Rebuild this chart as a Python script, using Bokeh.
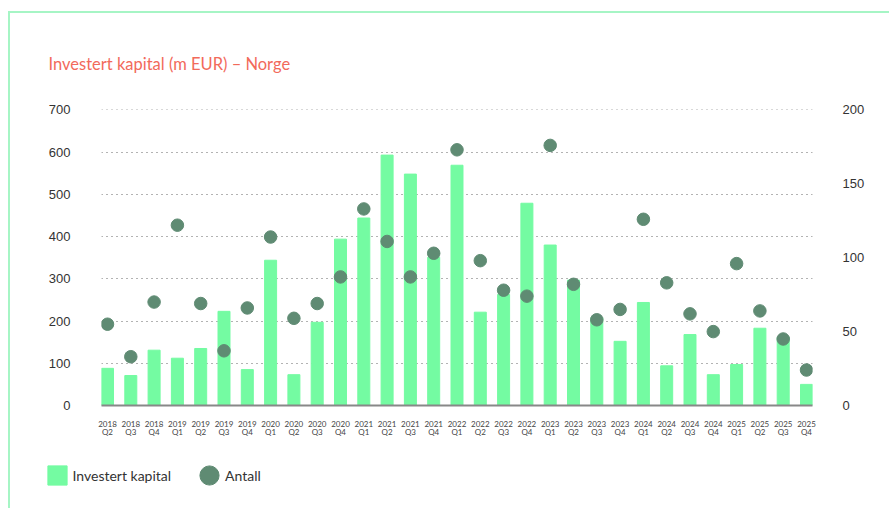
from bokeh.plotting import figure
from bokeh.layouts import column
from bokeh.models import (Range1d, LinearAxis, FixedTicker, Legend, LegendItem,
                          InlineStyleSheet)
from bokeh.embed import file_html
from bokeh.resources import INLINE

quarters = ["2018\nQ2", "2018\nQ3", "2018\nQ4",
            "2019\nQ1", "2019\nQ2", "2019\nQ3", "2019\nQ4",
            "2020\nQ1", "2020\nQ2", "2020\nQ3", "2020\nQ4",
            "2021\nQ1", "2021\nQ2", "2021\nQ3", "2021\nQ4",
            "2022\nQ1", "2022\nQ2", "2022\nQ3", "2022\nQ4",
            "2023\nQ1", "2023\nQ2", "2023\nQ3", "2023\nQ4",
            "2024\nQ1", "2024\nQ2", "2024\nQ3", "2024\nQ4",
            "2025\nQ1", "2025\nQ2", "2025\nQ3", "2025\nQ4"]
invested = [88, 71, 131, 112, 135, 223, 85, 344, 73, 197, 394, 444, 593, 548, 351, 569,
            221, 263, 479, 380, 297, 208, 152, 244, 94, 168, 73, 97, 183, 162, 50]
count = [55, 33, 70, 122, 69, 37, 66, 114, 59, 69, 87, 133, 111, 87, 103, 173,
         98, 78, 74, 176, 82, 58, 65, 126, 83, 62, 50, 96, 64, 45, 24]
left_ticks = [0, 100, 200, 300, 400, 500, 600, 700]
right_ticks = [0, 50, 100, 150, 200]
series_names = ["Investert kapital", "Antall"]
title_text = "Investert kapital (m EUR) \u2013 Norge"

BAR = "#74fba2"
DOT = "#5f8b73"
BORDER = "#a6f5c5"
W = 889
xs = list(range(len(quarters)))
bw = 0.515

p = figure(width=W, height=445, output_backend="svg", toolbar_location=None,
           x_range=Range1d(-bw / 2, len(quarters) - 1 + bw / 2),
           y_range=Range1d(0, 701),
           min_border_left=101, min_border_right=W - 812, min_border_top=109,
           min_border_bottom=40)
p.frame_align = False
p.extra_y_ranges = {"right": Range1d(0, 200 * 701 / 700)}
p.outline_line_color = None
p.background_fill_color = "white"
p.border_fill_color = "white"

p.title.text = title_text
p.title.text_font = "Lato"
p.title.text_font_size = "16.5px"
p.title.text_font_style = "normal"
p.title.text_color = "#f26a5b"
p.title.align = "left"
p.title.offset = -53
p.title.standoff = 72

p.vbar(x=xs, top=invested, width=bw, color=BAR)
p.scatter(x=xs, y=count, y_range_name="right", size=12.5, color=DOT)

xa = p.xaxis[0]
xa.ticker = FixedTicker(ticks=xs)
xa.major_label_overrides = {i: q for i, q in enumerate(quarters)}
xa.major_label_text_font = "Lato"
xa.major_label_text_font_size = "8px"
xa.major_label_text_color = "#444444"
xa.major_label_text_line_height = 0.85
xa.major_label_standoff = 7
xa.major_tick_line_color = None
xa.minor_tick_line_color = None
xa.axis_line_color = "#888888"
xa.axis_line_width = 2

ya = p.yaxis[0]
ya.ticker = FixedTicker(ticks=left_ticks)
ya.major_label_text_font = "Liberation Sans"
ya.major_label_text_font_size = "13px"
ya.major_label_text_color = "#333333"
ya.major_label_standoff = 25
ya.axis_line_color = None
ya.major_tick_line_color = None
ya.minor_tick_line_color = None

ra = LinearAxis(y_range_name="right", ticker=FixedTicker(ticks=right_ticks))
ra.major_label_text_font = "Liberation Sans"
ra.major_label_text_font_size = "13px"
ra.major_label_text_color = "#333333"
ra.major_label_text_align = "right"
ra.major_label_standoff = 24
ra.axis_line_color = None
ra.major_tick_line_color = None
ra.minor_tick_line_color = None
p.add_layout(ra, "right")

p.xgrid.visible = False
p.ygrid.ticker = FixedTicker(ticks=left_ticks)
p.ygrid.grid_line_color = "#666666"
p.ygrid.grid_line_dash = "1 4"
p.ygrid.grid_line_width = 1

# legend strip below the chart
lp = figure(width=W, height=63, output_backend="svg", toolbar_location=None,
            x_range=Range1d(0, 1), y_range=Range1d(0, 1),
            x_axis_location=None, y_axis_location=None,
            min_border=0, min_border_left=0, min_border_right=0,
            min_border_top=0, min_border_bottom=0)
lp.frame_align = False
lp.grid.visible = False
lp.outline_line_color = None
lp.background_fill_color = None
lp.border_fill_color = None
# legend-only renderers, placed outside the visible range
r1 = lp.vbar(x=[5], top=[5], width=1, color=BAR)
r2 = lp.ellipse(x=[5], y=[5], width=19, height=19, width_units="screen",
                height_units="screen", color=DOT)
legend = Legend(items=[LegendItem(label=series_names[0], renderers=[r1]),
                       LegendItem(label=series_names[1], renderers=[r2])],
                orientation="horizontal", location=(44.5, 21),
                glyph_width=24, glyph_height=24, label_standoff=4, spacing=26,
                padding=0, margin=0, border_line_color=None, background_fill_alpha=0,
                label_text_font="Lato", label_text_font_size="14px",
                label_text_color="#333333")
lp.add_layout(legend, "center")

css = InlineStyleSheet(css="""
:host { position: relative; }
:host::after { content: ''; position: absolute; left: 8px; top: 11px; right: 0; bottom: 0;
  border-left: 2px solid %s; border-top: 2px solid %s; pointer-events: none; z-index: 10; }
""" % (BORDER, BORDER))
layout = column(p, lp, spacing=0, stylesheets=[css])

open("out.html", "w").write(file_html(layout, INLINE))
